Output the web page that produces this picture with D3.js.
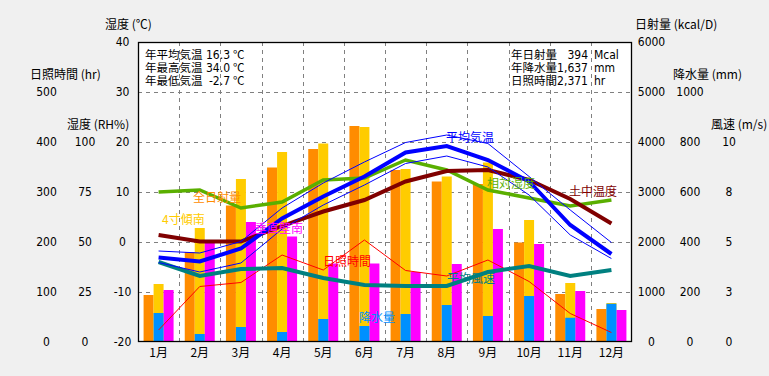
<!DOCTYPE html>
<html>
<head>
<meta charset="utf-8">
<script src="https://cdn.jsdelivr.net/npm/d3@7"></script>
<style>
  body { margin: 0; background: #f0f0f0; }
  svg { display: block; font-family: "Noto Sans CJK JP", "Noto Sans", sans-serif; font-size: 12px; }
  .num { font-family: "Liberation Sans Narrow", "DejaVu Sans Condensed", "Roboto", sans-serif; font-size: 12px; }
  .stat { font-size: 11.5px; }
</style>
</head>
<body>
<div class="chart"></div>
<script>
// monthly data
var months = ['1月', '2月', '3月', '4月', '5月', '6月', '7月', '8月', '9月', '10月', '11月', '12月'];
var solarAll = [940, 1800, 2730, 3490, 3860, 4320, 3440, 3210, 3160, 1990, 960, 660];
var solarTilt = [1160, 2280, 3260, 3800, 3970, 4300, 3460, 3310, 3590, 2440, 1180, 780];
var solarWall = [1040, 2040, 2400, 2110, 1570, 1570, 1400, 1560, 2260, 1960, 1020, 640];
var precip = [116, 32, 60, 40, 92, 64, 112, 148, 104, 184, 97, 153];
var sunshine = [24, 111, 119, 174, 144, 204, 143, 132, 164, 121, 57, 19];
var windSpeed = [4.0, 3.3, 3.65, 3.7, 3.2, 2.85, 2.8, 2.8, 3.5, 3.8, 3.3, 3.6];
var humidity = [75, 76, 67, 70, 81, 82, 91, 86, 76, 72, 68, 71];
var tempMean = [-3.1, -3.9, -1.3, 4.7, 9.1, 13.1, 17.9, 19.2, 16.4, 12.1, 3.4, -2.4];
var tempHigh = [-1.8, -2.2, 0.1, 6.8, 11.8, 16.0, 19.9, 21.4, 19.7, 13.1, 6.4, -0.1];
var tempLow = [-4.1, -6.0, -4.2, 2.6, 7.4, 11.4, 15.7, 17.2, 15.0, 9.4, 1.4, -3.3];
var soilTemp = [1.4, 0.1, 0.1, 3.2, 6.1, 8.4, 12.1, 14.2, 14.4, 12.4, 8.6, 3.7];

// tick labels
var sunTicks = [0, 100, 200, 300, 400, 500];
var rhTicks = [0, 25, 50, 75, 100];
var tempTicks = [-20, -10, 0, 10, 20, 30, 40];
var solarTicks = [0, 1000, 2000, 3000, 4000, 5000, 6000];
var precipTicks = [0, 200, 400, 600, 800, 1000];
var windTicks = [0, 2.5, 5, 7.5, 10];
var windTickLabels = ['0', '3', '5', '8', '10'];

var statsLeft = [['年平均気温', '16.3', '℃'], ['年最高気温', '34.0', '℃'], ['年最低気温', '-2.7', '℃']];
var statsRight = [['年日射量', '394', 'Mcal'], ['年降水量', '1,637', 'mm'], ['日照時間', '2,371', 'hr']];

var w = 769, h = 376,
  plotL = 138, plotR = 632, plotT = 42, plotB = 342;

var svg = d3.select('.chart')
  .append('svg')
  .attr('width', w)
  .attr('height', h);

// scales
var x = d3.scaleBand().domain(months).range([plotL, plotR]);
var sub = d3.scaleBand().domain([0, 1, 2]).range([-15, 15]);
var yTemp = d3.scaleLinear().domain([-20, 40]).range([plotB, plotT]);
var ySun = d3.scaleLinear().domain([0, 500]).range([plotB, 92]);
var yRh = d3.scaleLinear().domain([0, 100]).range([plotB, 142]);
var ySolar = d3.scaleLinear().domain([0, 6000]).range([plotB, plotT]);
var yPrecip = d3.scaleLinear().domain([0, 1000]).range([plotB, 92]);
var yWind = d3.scaleLinear().domain([0, 10]).range([plotB, 142]);

var cx = function (i) { return x(months[i]) + x.bandwidth() / 2; };

// plot background
svg.append('rect')
  .attr('x', plotL).attr('y', plotT)
  .attr('width', plotR - plotL).attr('height', plotB - plotT)
  .attr('fill', '#fff');

// grid
svg.selectAll('line.hgrid')
  .data([-10, 0, 10, 20, 30])
  .enter().append('line')
  .attr('class', 'hgrid')
  .attr('x1', plotL).attr('x2', plotR)
  .attr('y1', function (d) { return Math.round(yTemp(d)) + 0.5; })
  .attr('y2', function (d) { return Math.round(yTemp(d)) + 0.5; })
  .attr('stroke', '#808080')
  .attr('stroke-dasharray', '4,4');

svg.selectAll('line.vgrid')
  .data(months.slice(1))
  .enter().append('line')
  .attr('class', 'vgrid')
  .attr('x1', function (d) { return Math.round(x(d)) + 0.5; })
  .attr('x2', function (d) { return Math.round(x(d)) + 0.5; })
  .attr('y1', plotT).attr('y2', plotB)
  .attr('stroke', '#808080')
  .attr('stroke-dasharray', '4,4');

// bars
var barSets = [
  { values: solarAll, slot: 0, color: '#ff8c00', scale: ySolar },
  { values: solarTilt, slot: 1, color: '#ffcc00', scale: ySolar },
  { values: solarWall, slot: 2, color: '#ff00ff', scale: ySolar },
  { values: precip, slot: 1, color: '#0090ff', scale: yPrecip }
];

barSets.forEach(function (s) {
  svg.append('g')
    .selectAll('rect')
    .data(s.values)
    .enter().append('rect')
    .attr('x', function (d, i) { return cx(i) + sub(s.slot); })
    .attr('width', sub.bandwidth())
    .attr('y', function (d) { return s.scale(d); })
    .attr('height', function (d) { return plotB - s.scale(d); })
    .attr('fill', s.color);
});

// lines
var lineSets = [
  { values: sunshine, scale: ySun, color: '#ff0000', width: 1 },
  { values: windSpeed, scale: yWind, color: '#008080', width: 4 },
  { values: humidity, scale: yRh, color: '#5aaf00', width: 3.5 },
  { values: soilTemp, scale: yTemp, color: '#800000', width: 4 },
  { values: tempHigh, scale: yTemp, color: '#0000ff', width: 1 },
  { values: tempLow, scale: yTemp, color: '#0000ff', width: 1 },
  { values: tempMean, scale: yTemp, color: '#0000ff', width: 4 }
];

lineSets.forEach(function (s) {
  var line = d3.line()
    .x(function (d, i) { return cx(i); })
    .y(function (d) { return s.scale(d); });
  svg.append('path')
    .datum(s.values)
    .attr('d', line)
    .attr('fill', 'none')
    .attr('stroke', s.color)
    .attr('stroke-width', s.width);
});

// series names on the plot
var seriesLabels = [
  ['平均気温', '#0000ff', 446, 142],
  ['全日射量', '#ff8c00', 193, 202],
  ['4寸傾南', '#ffcc00', 162, 224],
  ['垂直壁南', '#ff00ff', 255, 233],
  ['日照時間', '#ff0000', 323, 266],
  ['降水量', '#0090ff', 359, 322],
  ['相対湿度', '#5aaf00', 487, 188],
  ['土中温度', '#800000', 569, 196],
  ['平均風速', '#008080', 447, 283]
];
svg.selectAll('text.series')
  .data(seriesLabels)
  .enter().append('text')
  .attr('class', 'series')
  .attr('x', function (d) { return d[2]; })
  .attr('y', function (d) { return d[3]; })
  .attr('fill', function (d) { return d[1]; })
  .text(function (d) { return d[0]; });

// stats boxes
statsLeft.forEach(function (r, i) {
  var yy = 59 + i * 13;
  svg.append('text').attr('class', 'stat').attr('x', 145).attr('y', yy).text(r[0]);
  svg.append('text').attr('class', 'num').attr('x', 230).attr('y', yy).attr('text-anchor', 'end').text(r[1]);
  svg.append('text').attr('class', 'stat').attr('x', 233).attr('y', yy).text(r[2]);
});
statsRight.forEach(function (r, i) {
  var yy = 59 + i * 13;
  svg.append('text').attr('class', 'stat').attr('x', 511).attr('y', yy).text(r[0]);
  svg.append('text').attr('class', 'num').attr('x', 588).attr('y', yy).attr('text-anchor', 'end').text(r[1]);
  svg.append('text').attr('class', 'num').attr('x', 594).attr('y', yy).text(r[2]);
});

// border
svg.append('rect')
  .attr('x', plotL + 0.5).attr('y', plotT + 0.5)
  .attr('width', plotR - plotL - 1).attr('height', plotB - plotT - 1)
  .attr('fill', 'none')
  .attr('stroke', '#000')
  .attr('stroke-width', 1.3);

// value columns beside the plot
function column(scale, ticks, labels, xPos) {
  var axis = d3.axisLeft(scale)
    .tickValues(ticks)
    .tickSize(0)
    .tickPadding(0)
    .tickFormat(function (d, i) { return labels ? labels[i] : d; });
  var g = svg.append('g')
    .attr('transform', 'translate(' + xPos + ',0)')
    .call(axis);
  g.select('.domain').remove();
  g.attr('font-family', null).attr('font-size', null);
  g.selectAll('text')
    .attr('class', 'num')
    .attr('text-anchor', 'middle')
    .attr('x', 0)
    .attr('fill', '#000');
}
column(ySun, sunTicks, null, 46.5);
column(yRh, rhTicks, null, 85);
column(yTemp, tempTicks, null, 122.5);
column(ySolar, solarTicks, null, 651.5);
column(yPrecip, precipTicks, null, 690);
column(yWind, windTicks, windTickLabels, 729);

// month labels
svg.selectAll('text.month')
  .data(months)
  .enter().append('text')
  .attr('class', 'month')
  .attr('x', function (d) { return x(d) + x.bandwidth() / 2; })
  .attr('y', 357)
  .attr('text-anchor', 'middle')
  .text(function (d) { return d; });

// axis titles
var titles = [
  ['湿度 (℃)', 105, 29],
  ['日照時間 (hr)', 30, 79],
  ['湿度 (RH%)', 67, 129],
  ['日射量 (kcal/D)', 635, 29],
  ['降水量 (mm)', 673, 79],
  ['風速 (m/s)', 711, 129]
];
svg.selectAll('text.title')
  .data(titles)
  .enter().append('text')
  .attr('class', 'title')
  .attr('x', function (d) { return d[1]; })
  .attr('y', function (d) { return d[2]; })
  .text(function (d) { return d[0]; });
</script>
</body>
</html>
